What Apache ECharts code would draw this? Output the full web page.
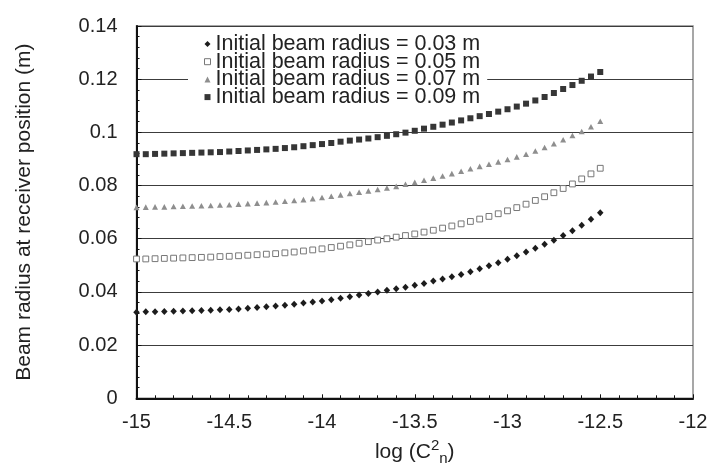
<!DOCTYPE html>
<html>
<head>
<meta charset="utf-8">
<script src="https://cdn.jsdelivr.net/npm/echarts@6/dist/echarts.min.js"></script>
<style>
  html, body { margin: 0; padding: 0; background: #fff; overflow: hidden; }
  #main { width: 712px; height: 464px; }
</style>
</head>
<body>
<div id="main"></div>
<script>
const logCn2 = [-15, -14.95, -14.9, -14.85, -14.8, -14.75, -14.7, -14.65, -14.6, -14.55,
  -14.5, -14.45, -14.4, -14.35, -14.3, -14.25, -14.2, -14.15, -14.1, -14.05,
  -14, -13.95, -13.9, -13.85, -13.8, -13.75, -13.7, -13.65, -13.6, -13.55,
  -13.5, -13.45, -13.4, -13.35, -13.3, -13.25, -13.2, -13.15, -13.1, -13.05,
  -13, -12.95, -12.9, -12.85, -12.8, -12.75, -12.7, -12.65, -12.6, -12.55, -12.5]

const radius003 = [0.0324, 0.0325, 0.0325, 0.0326, 0.0327, 0.0328, 0.0329, 0.0330, 0.0331, 0.0333,
  0.0334, 0.0336, 0.0339, 0.0341, 0.0344, 0.0347, 0.0350, 0.0354, 0.0358, 0.0362,
  0.0366, 0.0371, 0.0376, 0.0382, 0.0388, 0.0394, 0.0400, 0.0406, 0.0412, 0.0418,
  0.0425, 0.0432, 0.0441, 0.0449, 0.0457, 0.0466, 0.0476, 0.0487, 0.0498, 0.0510,
  0.0523, 0.0536, 0.0550, 0.0564, 0.0579, 0.0594, 0.0612, 0.0630, 0.0651, 0.0673, 0.0698]

const radius005 = [0.0524, 0.0524, 0.0525, 0.0526, 0.0527, 0.0528, 0.0529, 0.0530, 0.0531, 0.0533,
  0.0534, 0.0536, 0.0538, 0.0540, 0.0542, 0.0544, 0.0547, 0.0550, 0.0554, 0.0558,
  0.0562, 0.0567, 0.0572, 0.0577, 0.0583, 0.0589, 0.0595, 0.0600, 0.0606, 0.0612,
  0.0618, 0.0625, 0.0632, 0.0640, 0.0648, 0.0656, 0.0665, 0.0674, 0.0684, 0.0694,
  0.0705, 0.0717, 0.0730, 0.0744, 0.0758, 0.0773, 0.0789, 0.0806, 0.0825, 0.0844, 0.0865]

const radius007 = [0.0718, 0.0719, 0.0720, 0.0720, 0.0721, 0.0722, 0.0723, 0.0724, 0.0725, 0.0727,
  0.0728, 0.0730, 0.0732, 0.0734, 0.0736, 0.0738, 0.0741, 0.0744, 0.0747, 0.0751,
  0.0755, 0.0760, 0.0765, 0.0770, 0.0775, 0.0780, 0.0785, 0.0791, 0.0797, 0.0805,
  0.0812, 0.0820, 0.0828, 0.0836, 0.0845, 0.0854, 0.0863, 0.0872, 0.0880, 0.0889,
  0.0898, 0.0908, 0.0918, 0.0930, 0.0943, 0.0957, 0.0972, 0.0988, 0.1003, 0.1021, 0.1042]

const radius009 = [0.0918, 0.0918, 0.0919, 0.0920, 0.0921, 0.0922, 0.0923, 0.0924, 0.0925, 0.0926,
  0.0928, 0.0930, 0.0932, 0.0934, 0.0936, 0.0938, 0.0941, 0.0944, 0.0948, 0.0952,
  0.0956, 0.0960, 0.0965, 0.0969, 0.0973, 0.0977, 0.0982, 0.0987, 0.0993, 0.0999,
  0.1006, 0.1014, 0.1021, 0.1029, 0.1037, 0.1045, 0.1053, 0.1061, 0.1069, 0.1078,
  0.1087, 0.1097, 0.1108, 0.1120, 0.1133, 0.1148, 0.1163, 0.1178, 0.1194, 0.1210, 0.1227]

const seriesNames = [
  'Initial beam radius = 0.03 m',
  'Initial beam radius = 0.05 m',
  'Initial beam radius = 0.07 m',
  'Initial beam radius = 0.09 m'
]

const font = '"Liberation Sans", Arial, sans-serif'

const toPoints = (ys) => logCn2.map((x, i) => [x, ys[i]])

const chart = echarts.init(document.getElementById('main'), null, { renderer: 'canvas' })

const option = {
  animation: false,
  backgroundColor: '#fff',
  textStyle: { fontFamily: font },
  grid: {
    left: 136.5,
    right: 19,
    top: 26,
    bottom: 65.7,
    containLabel: false,
    outerBoundsMode: 'none',
    show: true,
    borderColor: '#8a8a8a',
    borderWidth: 1.5,
    backgroundColor: 'transparent'
  },
  legend: {
    orient: 'vertical',
    left: 188,
    top: 31,
    padding: [2, 7, 1, 16],
    itemGap: -4.3,
    itemWidth: 6,
    itemHeight: 6,
    backgroundColor: '#fff',
    textStyle: { fontSize: 21.5, color: '#222', fontFamily: font },
    data: [
      { name: seriesNames[0], icon: 'diamond' },
      { name: seriesNames[1], icon: 'rect', itemStyle: { color: '#fff', borderColor: '#777', borderWidth: 1 } },
      { name: seriesNames[2], icon: 'triangle' },
      { name: seriesNames[3], icon: 'rect' }
    ]
  },
  xAxis: {
    type: 'value',
    min: -15,
    max: -12,
    interval: 0.5,
    name: '{a|log (C}{sup|2}{sub|n}{a|)}',
    nameLocation: 'middle',
    nameGap: 40,
    nameTextStyle: {
      rich: {
        a: { fontSize: 21, lineHeight: 28, color: '#222', fontFamily: font, verticalAlign: 'middle' },
        sup: { fontSize: 15, lineHeight: 14, color: '#222', fontFamily: font, verticalAlign: 'top' },
        sub: { fontSize: 15, lineHeight: 11, color: '#222', fontFamily: font, verticalAlign: 'bottom' }
      }
    },
    axisLine: { show: true, onZero: false, lineStyle: { color: '#111', width: 2 } },
    axisTick: { show: true, inside: true, length: 4, lineStyle: { color: '#111', width: 1 } },
    minorTick: { show: true, splitNumber: 5, length: 3, lineStyle: { color: '#111', width: 1 } },
    axisLabel: { fontSize: 20, margin: 14, color: '#222', fontFamily: font },
    splitLine: { show: false }
  },
  yAxis: {
    type: 'value',
    min: 0,
    max: 0.14,
    interval: 0.02,
    name: 'Beam radius at receiver position (m)',
    nameLocation: 'middle',
    nameGap: 102,
    nameTextStyle: { fontSize: 21, color: '#222', fontFamily: font },
    axisLine: { show: true, lineStyle: { color: '#111', width: 2 } },
    axisTick: { show: true, inside: true, length: 5, lineStyle: { color: '#111', width: 1 } },
    minorTick: { show: true, splitNumber: 5, length: 3, lineStyle: { color: '#111', width: 1 } },
    axisLabel: { fontSize: 20, margin: 19, color: '#222', fontFamily: font },
    splitLine: { show: true, lineStyle: { color: '#3c3c3c', width: 1.2 } }
  },
  series: [
    {
      name: seriesNames[0],
      type: 'scatter',
      symbol: 'diamond',
      symbolSize: [6.5, 7],
      itemStyle: { color: '#1c1c1c', opacity: 1 },
      data: toPoints(radius003)
    },
    {
      name: seriesNames[1],
      type: 'scatter',
      symbol: 'rect',
      symbolSize: [5.8, 5.8],
      itemStyle: { color: '#fff', borderColor: '#777', borderWidth: 1, opacity: 1 },
      data: toPoints(radius005)
    },
    {
      name: seriesNames[2],
      type: 'scatter',
      symbol: 'triangle',
      symbolSize: [6, 5.6],
      itemStyle: { color: '#8e8e8e', opacity: 1 },
      data: toPoints(radius007)
    },
    {
      name: seriesNames[3],
      type: 'scatter',
      symbol: 'rect',
      symbolSize: [6, 6],
      itemStyle: { color: '#363636', opacity: 1 },
      data: toPoints(radius009)
    }
  ]
}

chart.setOption(option)
</script>
</body>
</html>
